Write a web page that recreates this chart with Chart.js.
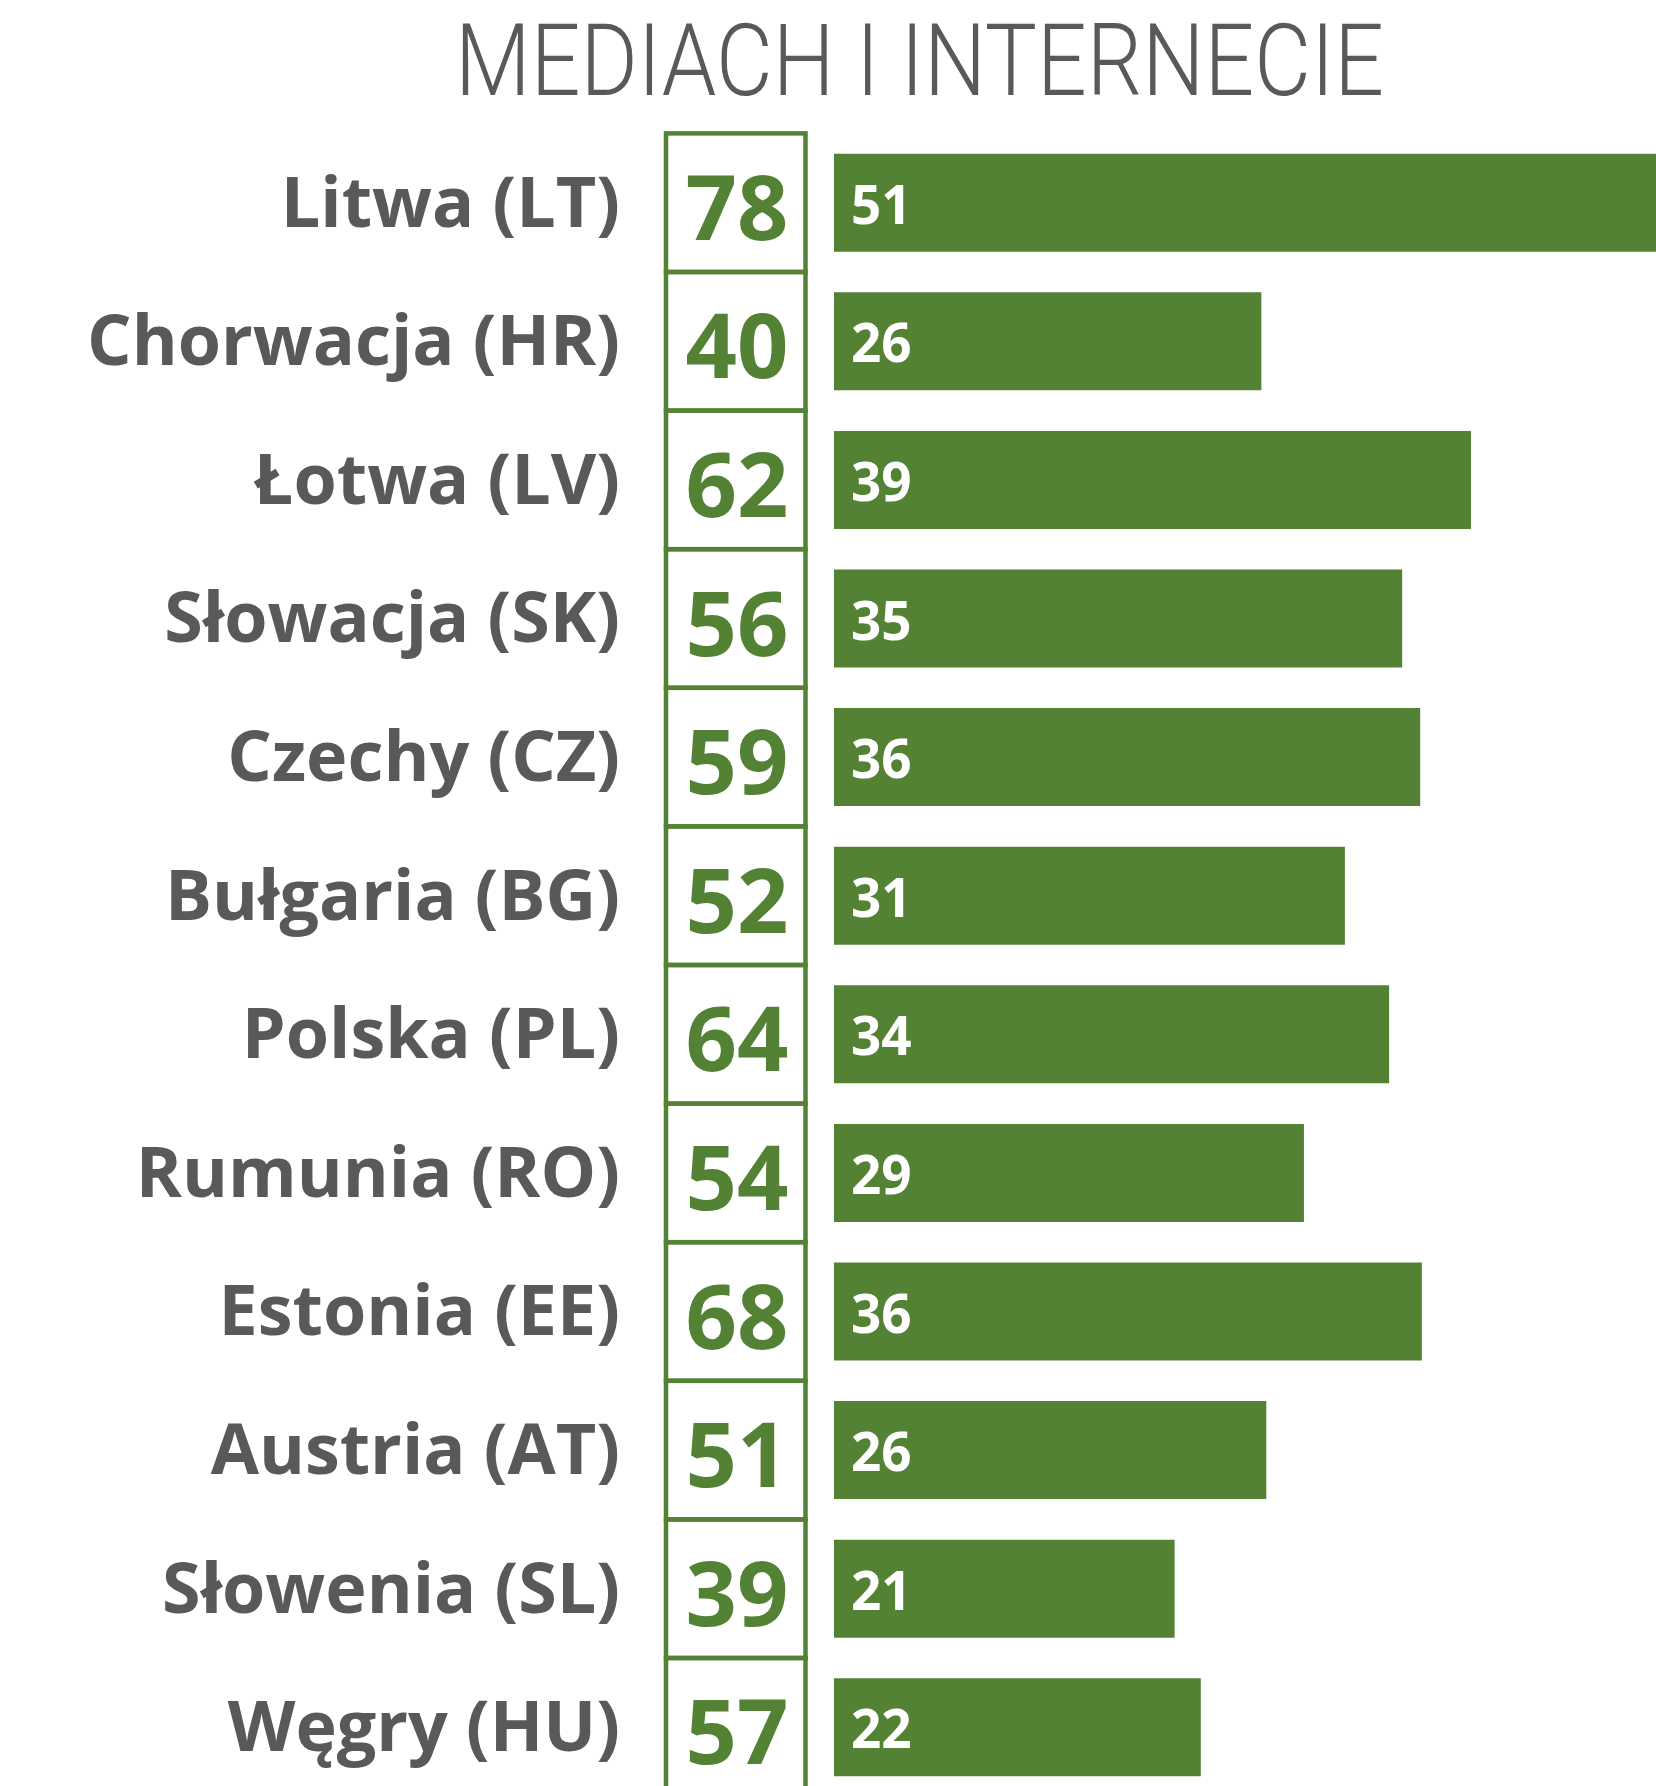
<!DOCTYPE html>
<html>
<head>
<meta charset="utf-8">
<script src="https://cdn.jsdelivr.net/npm/chart.js@4.4.1/dist/chart.umd.min.js"></script>
<style>
  html, body { margin: 0; padding: 0; background: #fff; overflow: hidden; }
  canvas { display: block; }
</style>
</head>
<body>
<canvas id="chart" width="1656" height="1800"></canvas>
<script>
const titleText = 'MEDIACH I INTERNECIE';
const categories = ['Litwa (LT)', 'Chorwacja (HR)', 'Łotwa (LV)', 'Słowacja (SK)', 'Czechy (CZ)', 'Bułgaria (BG)',
    'Polska (PL)', 'Rumunia (RO)', 'Estonia (EE)', 'Austria (AT)', 'Słowenia (SL)', 'Węgry (HU)'];
// numbers in the framed boxes
const boxValues = [78, 40, 62, 56, 59, 52, 64, 54, 68, 51, 39, 57];
// bar values (labels show them rounded)
const barValues = [51, 26.1, 38.9, 34.7, 35.8, 31.2, 33.9, 28.7, 35.9, 26.4, 20.8, 22.4];

const GREEN = '#548235';
const GREY = '#595959';

// title, squeezed to the width it has in the original
const titlePlugin = {
    id: 'bigTitle',
    afterDraw(chart) {
        const ctx = chart.ctx;
        ctx.save();
        ctx.font = '300 100px Roboto';
        ctx.fillStyle = GREY;
        ctx.textBaseline = 'alphabetic';
        ctx.textAlign = 'left';
        const w = ctx.measureText(titleText).width;
        ctx.translate(455, 95);
        ctx.scale(929 / w, 1);
        ctx.fillText(titleText, 0, 0);
        ctx.restore();
    }
};

// framed boxes with the first number, plus white labels inside the bars
const boxesPlugin = {
    id: 'boxes',
    afterDatasetsDraw(chart) {
        const ctx = chart.ctx;
        const y = chart.scales.y;
        const band = y.getPixelForValue(1) - y.getPixelForValue(0);
        ctx.save();
        ctx.strokeStyle = GREEN;
        ctx.lineWidth = 4.5;
        ctx.fillStyle = GREEN;
        ctx.font = 'bold 90px "Open Sans"';
        ctx.textAlign = 'center';
        ctx.textBaseline = 'alphabetic';
        boxValues.forEach((v, i) => {
            const yc = y.getPixelForValue(i);
            ctx.strokeRect(666, yc - band / 2, 139.5, band);
            ctx.fillText(String(v), 737, yc + 37);
        });

        const meta = chart.getDatasetMeta(0);
        ctx.fillStyle = '#fff';
        ctx.font = 'bold 53px "Open Sans"';
        ctx.textAlign = 'left';
        meta.data.forEach((bar, i) => {
            ctx.fillText(String(Math.round(barValues[i])), bar.base + 17, bar.y + 21);
        });
        ctx.restore();
    }
};

new Chart(document.getElementById('chart').getContext('2d'), {
    type: 'bar',
    data: {
        labels: categories,
        datasets: [{
            data: barValues,
            backgroundColor: GREEN,
            borderWidth: 0,
            barPercentage: 0.707,
            categoryPercentage: 1
        }]
    },
    options: {
        indexAxis: 'y',
        responsive: false,
        animation: false,
        devicePixelRatio: 1,
        layout: { padding: { top: 133.4, bottom: 3.4, left: 0, right: 0 } },
        plugins: {
            legend: { display: false },
            tooltip: { enabled: false },
            title: { display: false }
        },
        scales: {
            x: {
                min: 0,
                max: 50.2,
                display: false
            },
            y: {
                grid: { display: false, drawTicks: false },
                border: { display: false },
                ticks: {
                    padding: 214,
                    color: GREY,
                    font: { family: '"Open Sans"', weight: 'bold', size: 70 },
                    labelOffset: 4
                },
                afterFit(scale) {
                    scale.width = 834;
                    scale.paddingTop = 0;
                    scale.paddingBottom = 0;
                }
            }
        }
    },
    plugins: [titlePlugin, boxesPlugin]
});
</script>
</body>
</html>
